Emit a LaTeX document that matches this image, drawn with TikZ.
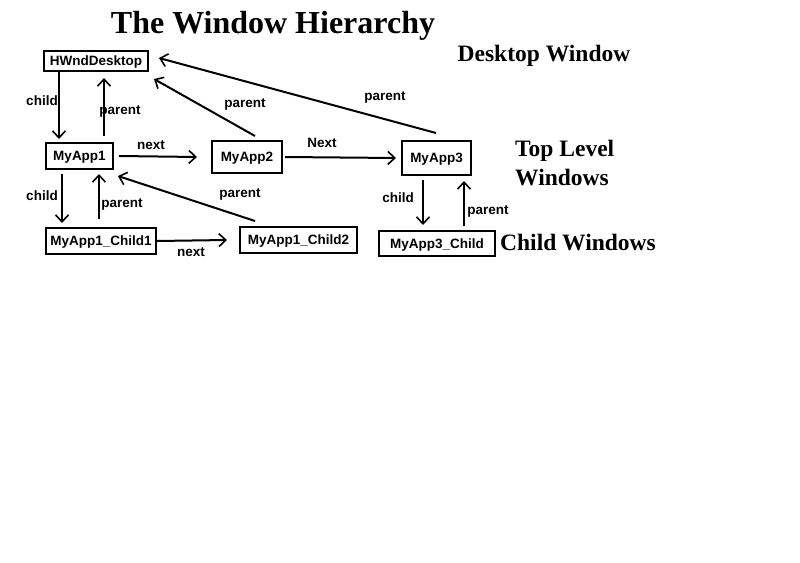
\documentclass[tikz,border=0pt]{standalone}
\usepackage{fontspec}
\setmainfont{Liberation Serif}
\setsansfont{Liberation Sans}
\usetikzlibrary{arrows.meta}
\begin{document}
\begin{tikzpicture}[x=1pt,y=-1pt,
  box/.style={draw,line width=2pt,inner sep=0pt,text depth=0pt,font=\sffamily\bfseries\fontsize{13.5}{15}\selectfont},
  arr/.style={line width=2pt,-{Straight Barb[length=7pt,width=13pt,line width=1.6pt]}},
  lbl/.style={font=\sffamily\bfseries\fontsize{13.5}{15}\selectfont,inner sep=0pt},
  big/.style={font=\bfseries\fontsize{23.5}{27}\selectfont,inner sep=0pt}]
\useasboundingbox[fill=white] (0,0) rectangle (800,562);
\node[font=\bfseries\fontsize{32}{36}\selectfont,inner sep=0pt] (title) at (273,26) {The Window Hierarchy};
\node[big] (dw) at (544,56) {Desktop Window};
\node[big,anchor=west] (tl1) at (515,151) {Top Level};
\node[big,anchor=west] (tl2) at (515,178) {Windows};
\node[big,anchor=west] (cw) at (500,243) {Child Windows};

\node[box,minimum width=104pt,minimum height=20pt] (hwnd) at (96,61) {HWndDesktop};
\node[box,minimum width=67pt,minimum height=26pt] (app1) at (79.5,156) {MyApp1};
\node[box,minimum width=70pt,minimum height=32pt] (app2) at (247,157) {MyApp2};
\node[box,minimum width=69pt,minimum height=34pt] (app3) at (436.5,158) {MyApp3};
\node[box,minimum width=110pt,minimum height=26pt] (c1) at (101,241) {MyApp1\_Child1};
\node[box,minimum width=117pt,minimum height=26pt] (c2) at (298.5,240) {MyApp1\_Child2};
\node[box,minimum width=116pt,minimum height=25pt] (a3c) at (437,243.5) {MyApp3\_Child};

\draw[arr] ([xshift=16]hwnd.south west) -- ([xshift=14,yshift=3]app1.north west);
\draw[arr] ([xshift=59,yshift=6]app1.north west) -- ([xshift=61,yshift=-6]hwnd.south west);
\draw[arr] ([xshift=44,yshift=4]app2.north west) -- ([xshift=5,yshift=-7]hwnd.south east);
\draw[arr] ([xshift=35,yshift=7]app3.north west) -- ([xshift=10,yshift=3]hwnd.east);
\draw[arr] ([xshift=5]app1.east) -- ([xshift=-14]app2.west);
\draw[arr] ([xshift=2]app2.east) -- ([xshift=-5]app3.west);
\draw[arr] ([xshift=17,yshift=-4]app1.south west) -- ([xshift=17,yshift=4]c1.north west);
\draw[arr] ([xshift=54,yshift=8]c1.north west) -- ([xshift=54,yshift=-4]app1.south west);
\draw[arr] ([xshift=16,yshift=5]c2.north west) -- ([xshift=4,yshift=-6]app1.south east);
\draw[arr] (c1.east) -- ([xshift=-12]c2.west);
\draw[arr] ([xshift=22,yshift=-4]app3.south west) -- ([xshift=45,yshift=5]a3c.north west);
\draw[arr] ([xshift=86,yshift=4]a3c.north west) -- ([xshift=63,yshift=-5]app3.south west);

\node[lbl] (l1) at (42,101) {child};
\node[lbl] (l2) at (120,111) {parent};
\node[lbl] (l3) at (245,104) {parent};
\node[lbl] (l4) at (385,97) {parent};
\node[lbl] (l5) at (151,145) {next};
\node[lbl] (l6) at (322,143) {Next};
\node[lbl] (l7) at (42,196) {child};
\node[lbl] (l8) at (122,204) {parent};
\node[lbl] (l9) at (240,194) {parent};
\node[lbl] (l10) at (191,252) {next};
\node[lbl] (l11) at (398,198) {child};
\node[lbl] (l12) at (488,211) {parent};
\end{tikzpicture}
\end{document}
